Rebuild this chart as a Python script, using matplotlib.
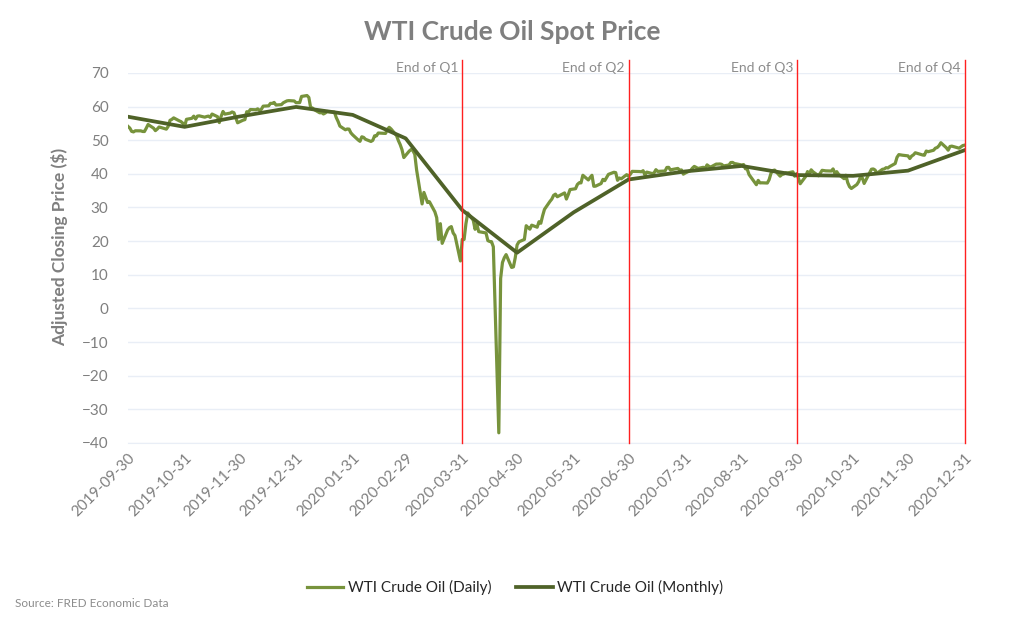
import pandas as pd
import matplotlib.pyplot as plt
import matplotlib.dates as mdates

plt.rcParams['font.family'] = ['Lato', 'DejaVu Sans']

# daily WTI spot price, one list per month (trading days only)
sep19 = [54.09]
oct19 = [53.59, 52.62, 52.46, 52.79, 52.77, 52.59, 52.57, 53.57, 54.66, 53.57, 52.84, 53.30,
         53.91, 53.77, 53.28, 54.09, 55.90, 56.18, 56.63, 55.76, 55.52, 55.05, 54.06]
nov19 = [56.20, 56.50, 57.14, 56.29, 57.15, 57.23, 56.84, 57.03, 57.15, 56.78, 57.77, 56.98,
         55.23, 57.10, 58.54, 57.74, 58.05, 58.38, 58.16, 55.17]
dec19 = [55.95, 56.11, 58.46, 58.40, 59.11, 59.04, 59.31, 58.85, 59.17, 60.11, 60.21, 60.94,
         60.93, 61.22, 60.44, 60.57, 61.11, 61.68, 61.76, 61.66, 61.14]
jan20 = [61.17, 63.00, 63.27, 62.70, 59.65, 59.56, 59.07, 58.12, 58.23, 57.79, 58.08, 58.52,
         58.34, 56.73, 55.58, 54.18, 53.09, 53.33, 53.29, 52.19, 51.58]
feb20 = [50.07, 49.66, 51.01, 50.82, 50.27, 49.62, 49.94, 51.30, 51.27, 52.13, 52.01, 53.24,
         53.82, 53.34, 51.38, 49.89, 48.70, 47.17, 44.83]
mar20 = [46.78, 47.23, 46.87, 45.79, 41.14, 31.05, 34.47, 32.98, 31.47, 31.72, 28.69, 26.96,
         20.48, 25.18, 19.33, 23.33, 24.00, 24.31, 22.43, 21.65, 14.10, 20.51]
apr20 = [20.48, 25.18, 28.36, 26.21, 23.52, 24.98, 22.81, 22.43, 20.15, 19.89, 19.83, 18.31,
         -36.98, 8.91, 13.64, 15.06, 15.99, 12.17, 12.34, 15.06, 18.84]
may20 = [19.78, 20.49, 24.58, 24.03, 23.55, 24.74, 24.13, 25.76, 25.30, 27.55, 29.44, 31.80,
         32.47, 33.60, 33.96, 33.18, 34.32, 32.50, 33.81, 35.32]
jun20 = [35.57, 36.82, 37.33, 37.30, 39.57, 38.18, 38.92, 39.57, 36.29, 36.34, 37.11, 38.35,
         37.97, 38.87, 39.83, 40.46, 40.36, 38.07, 38.76, 38.51, 39.75, 39.27]
jul20 = [39.86, 40.73, 40.68, 40.60, 40.93, 39.60, 40.51, 40.08, 40.28, 41.23, 40.72, 40.75,
         40.83, 41.89, 41.92, 41.08, 41.29, 41.60, 41.09, 41.15, 39.90, 40.22]
aug20 = [41.01, 41.70, 42.20, 41.93, 41.60, 41.94, 41.61, 42.66, 42.24, 42.01, 42.89, 42.89,
         42.93, 42.82, 42.35, 42.61, 43.35, 43.39, 43.04, 42.96, 42.62]
sep20 = [42.76, 41.51, 41.37, 39.77, 36.76, 38.05, 37.30, 37.33, 37.26, 38.28, 40.16, 40.97,
         41.11, 39.31, 39.80, 39.93, 40.31, 40.25, 40.60, 39.29, 40.05]
oct20 = [38.72, 37.05, 39.22, 40.67, 39.95, 41.19, 40.60, 39.43, 40.20, 41.04, 40.96, 40.88,
         40.83, 41.46, 40.03, 40.64, 39.85, 38.56, 39.57, 37.39, 36.17, 35.64]
nov20 = [36.81, 37.66, 39.15, 38.79, 37.14, 40.29, 41.36, 41.45, 41.12, 40.13, 41.34, 41.43,
         41.82, 41.74, 42.15, 43.06, 44.91, 45.71, 45.53, 45.34]
dec20 = [44.55, 45.28, 45.64, 46.26, 45.76, 45.60, 45.52, 46.78, 46.57, 47.00, 47.62, 47.82,
         48.36, 49.24, 47.74, 47.02, 48.12, 48.23, 47.62, 48.00, 48.40, 48.52]

holidays = ['2019-11-28', '2019-12-25', '2020-01-01', '2020-01-20', '2020-02-17', '2020-04-10',
            '2020-05-25', '2020-07-03', '2020-09-07', '2020-11-26', '2020-12-25']

# monthly average price, plotted at month end
monthly = [56.97, 53.96, 57.03, 59.88, 57.52, 50.54, 29.21, 16.55, 28.56, 38.31, 40.71, 42.34,
           39.63, 39.40, 40.94, 47.02]

quarters = ['End of Q1', 'End of Q2', 'End of Q3', 'End of Q4']
quarter_dates = ['2020-03-31', '2020-06-30', '2020-09-30', '2020-12-31']

daily = sep19 + oct19 + nov19 + dec19 + jan20 + feb20 + mar20 + apr20 + may20 + jun20 \
    + jul20 + aug20 + sep20 + oct20 + nov20 + dec20
daily_dates = pd.bdate_range('2019-09-30', '2020-12-31', freq='C', holidays=holidays)
month_dates = pd.date_range('2019-09-30', '2020-12-31', freq='ME')

fig = plt.figure(figsize=(10.24, 6.23), dpi=100)
ax = fig.add_axes([0.125, 0.289, 0.817, 0.594])

ax.plot(daily_dates, daily, color='#77933C', lw=2.3, label='WTI Crude Oil (Daily)', zorder=3)
ax.plot(month_dates, monthly, color='#4F6228', lw=2.7, label='WTI Crude Oil (Monthly)', zorder=4)

for q, d in zip(quarters, quarter_dates):
    ax.axvline(pd.Timestamp(d), ymin=0, ymax=1.035, color='#FF2020', lw=1.0, clip_on=False, zorder=5)
    ax.text(pd.Timestamp(d) - pd.Timedelta(days=2), 71.5, q, ha='right', va='center',
            fontsize=10, color='#8C8C8C')

ax.set_xlim(pd.Timestamp('2019-09-30'), pd.Timestamp('2020-12-31'))
ax.set_ylim(-40, 70)
ax.set_yticks(range(-40, 71, 10))
ax.set_xticks(month_dates)
ax.xaxis.set_major_formatter(mdates.DateFormatter('%Y-%m-%d'))
ax.grid(axis='y', color='#E9EEF6', lw=1.0)
ax.set_axisbelow(True)
for s in ['top', 'right', 'left']:
    ax.spines[s].set_visible(False)
ax.spines['bottom'].set_color('#E9EEF6')
ax.tick_params(length=0, colors='#7F7F7F', labelsize=11)
ax.tick_params(axis='y', pad=14)
ax.tick_params(axis='x', pad=6)
plt.setp(ax.get_xticklabels(), rotation=45, ha='right', rotation_mode='anchor')

ax.set_ylabel('Adjusted Closing Price ($)', fontsize=12.5, fontweight='bold', color='#7F7F7F')
ax.yaxis.set_label_coords(-0.072, 0.53)
fig.text(0.5, 0.948, 'WTI Crude Oil Spot Price', ha='center', va='center', fontsize=19,
         fontweight='bold', color='#7F7F7F')

fig.legend(loc='center', bbox_to_anchor=(0.503, 0.057), ncol=2, frameon=False, fontsize=11,
           handlelength=2.4, columnspacing=1.6, handletextpad=0.3, labelcolor='#262626')
fig.text(0.015, 0.031, 'Source: FRED Economic Data', fontsize=8.5, color='#8C8C8C', va='center')

fig.savefig('out.png', dpi=100)
